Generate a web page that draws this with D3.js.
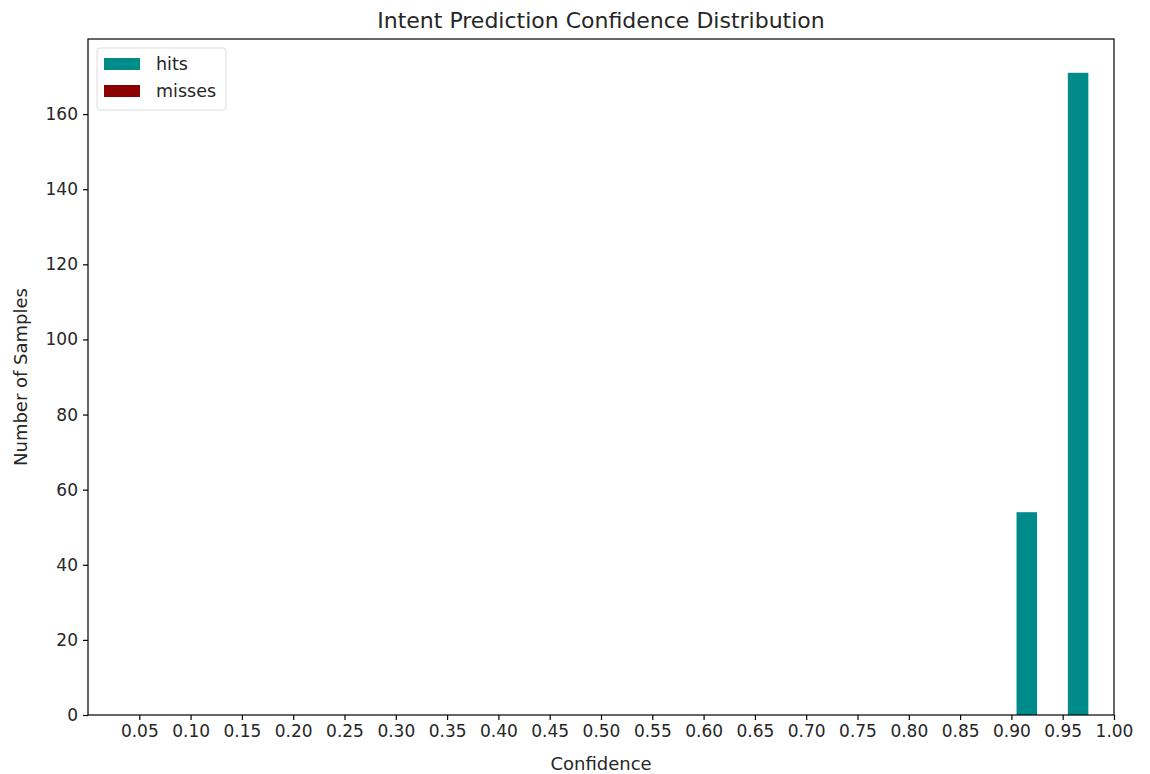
<!DOCTYPE html>
<html>
<head>
<meta charset="utf-8">
<script src="https://cdnjs.cloudflare.com/ajax/libs/d3/7.8.5/d3.min.js"></script>
<style>
  body { margin: 0; background: #fff; }
  svg { display: block; font-family: "DejaVu Sans", sans-serif; }
</style>
</head>
<body>
<svg width="1150" height="774"></svg>
<script>
// bin lower edges (width 0.05)
var binStarts = [0.00, 0.05, 0.10, 0.15, 0.20, 0.25, 0.30, 0.35, 0.40, 0.45,
                 0.50, 0.55, 0.60, 0.65, 0.70, 0.75, 0.80, 0.85, 0.90, 0.95];
var hits   = [0, 0, 0, 0, 0, 0, 0, 0, 0, 0, 0, 0, 0, 0, 0, 0, 0, 0, 54, 171];
var misses = [0, 0, 0, 0, 0, 0, 0, 0, 0, 0, 0, 0, 0, 0, 0, 0, 0, 0, 0, 0];
var xTicks = [0.05, 0.10, 0.15, 0.20, 0.25, 0.30, 0.35, 0.40, 0.45, 0.50,
              0.55, 0.60, 0.65, 0.70, 0.75, 0.80, 0.85, 0.90, 0.95, 1.00];
var yTicks = [0, 20, 40, 60, 80, 100, 120, 140, 160];
var seriesNames = ["hits", "misses"];
var seriesColors = ["#008b8b", "#8b0000"];

var svg = d3.select("svg");
var mLeft = 88, mRight = 1114, mTop = 39, mBottom = 715;
var barW = 0.02, offset = 0.005;

var x = d3.scaleLinear().domain([0, 1.0]).range([mLeft, mRight]);
var y = d3.scaleLinear().domain([0, 180]).range([mBottom, mTop]);

var rows = binStarts.map(function(b, i) { return {b: b, hits: hits[i], misses: misses[i]}; });

var g = svg.append("g");

// hits bars
g.selectAll("rect.hit")
  .data(rows.filter(function(d) { return d.hits > 0; }))
  .enter().append("rect")
  .attr("class", "hit")
  .attr("x", function(d) { return x(d.b + offset); })
  .attr("width", function(d) { return x(d.b + offset + barW) - x(d.b + offset); })
  .attr("y", function(d) { return y(d.hits); })
  .attr("height", function(d) { return y(0) - y(d.hits); })
  .attr("fill", seriesColors[0]);

// misses bars (beside hits)
g.selectAll("rect.miss")
  .data(rows.filter(function(d) { return d.misses > 0; }))
  .enter().append("rect")
  .attr("class", "miss")
  .attr("x", function(d) { return x(d.b + offset + barW); })
  .attr("width", function(d) { return x(d.b + offset + 2 * barW) - x(d.b + offset + barW); })
  .attr("y", function(d) { return y(d.misses); })
  .attr("height", function(d) { return y(0) - y(d.misses); })
  .attr("fill", seriesColors[1]);

// axes
var xAxis = svg.append("g")
  .attr("transform", "translate(0," + mBottom + ")")
  .call(d3.axisBottom(x).tickValues(xTicks).tickFormat(d3.format(".2f")).tickSize(5).tickPadding(5));
var yAxis = svg.append("g")
  .attr("transform", "translate(" + mLeft + ",0)")
  .call(d3.axisLeft(y).tickValues(yTicks).tickSize(5).tickPadding(5));

[xAxis, yAxis].forEach(function(a) {
  a.select(".domain").remove();
  a.selectAll("line").attr("stroke", "#000").attr("stroke-width", 1.2);
  a.selectAll("text").attr("font-size", 17).attr("fill", "#262626")
    .attr("font-family", "DejaVu Sans, sans-serif");
});

// frame
svg.append("rect")
  .attr("x", mLeft).attr("y", mTop)
  .attr("width", mRight - mLeft).attr("height", mBottom - mTop)
  .attr("fill", "none").attr("stroke", "#000").attr("stroke-width", 1.2);

// title and labels
svg.append("text")
  .attr("x", (mLeft + mRight) / 2).attr("y", 28)
  .attr("text-anchor", "middle").attr("font-size", 22).attr("fill", "#262626")
  .text("Intent Prediction Confidence Distribution");

svg.append("text")
  .attr("x", (mLeft + mRight) / 2).attr("y", 770)
  .attr("text-anchor", "middle").attr("font-size", 18).attr("fill", "#262626")
  .text("Confidence");

svg.append("text")
  .attr("transform", "translate(27," + (mTop + mBottom) / 2 + ") rotate(-90)")
  .attr("text-anchor", "middle").attr("font-size", 18).attr("fill", "#262626")
  .text("Number of Samples");

// legend
var lg = svg.append("g").attr("transform", "translate(97,48)");
lg.append("rect")
  .attr("width", 129).attr("height", 62).attr("rx", 3)
  .attr("fill", "#fff").attr("stroke", "#ddd");
var items = lg.selectAll("g.item")
  .data(seriesNames)
  .enter().append("g")
  .attr("transform", function(d, i) { return "translate(7," + (10 + i * 27) + ")"; });
items.append("rect")
  .attr("width", 36).attr("height", 12)
  .attr("fill", function(d, i) { return seriesColors[i]; });
items.append("text")
  .attr("x", 52).attr("y", 12)
  .attr("font-size", 17.5).attr("fill", "#262626")
  .text(function(d) { return d; });
</script>
</body>
</html>
